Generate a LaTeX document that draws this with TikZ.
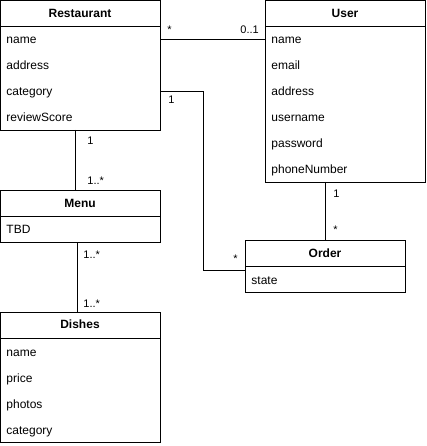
\documentclass[tikz,border=0pt]{standalone}
\usepackage{fontspec}
\setmainfont{Liberation Sans}
\begin{document}
\begin{tikzpicture}[x=1pt,y=-1pt,line width=0.9pt,
  cls/.style={draw,anchor=north west,inner sep=0pt,outer sep=0pt},
  hdr/.style={anchor=base,inner sep=0pt,font=\fontsize{12}{14}\selectfont\bfseries},
  attr/.style={anchor=base west,inner sep=0pt,font=\fontsize{12}{14}\selectfont},
  lbl/.style={anchor=base west,inner sep=0pt,font=\fontsize{11}{13}\selectfont},
  conn/.style={draw,line width=0.9pt}]
\useasboundingbox (0,0) rectangle (426,446);

% Restaurant
\node[cls,minimum width=159.5pt,minimum height=129.5pt] (rest) at (0.5,0.5) {};
\draw (rest.west |- 0,26) -- (rest.east |- 0,26);
\node[hdr] (restT) at (80,17.5) {Restaurant};
\node[attr] (restA1) at (6,44) {name};
\node[attr] (restA2) at (6,70) {address};
\node[attr] (restA3) at (6,96) {category};
\node[attr] (restA4) at (6,122) {reviewScore};

% User
\node[cls,minimum width=160pt,minimum height=181.5pt] (user) at (265,0.5) {};
\draw (user.west |- 0,26) -- (user.east |- 0,26);
\node[hdr] (userT) at (345,17.5) {User};
\node[attr] (userA1) at (271,44) {name};
\node[attr] (userA2) at (271,70) {email};
\node[attr] (userA3) at (271,96) {address};
\node[attr] (userA4) at (271,122) {username};
\node[attr] (userA5) at (271,148) {password};
\node[attr] (userA6) at (271,174) {phoneNumber};

% Menu
\node[cls,minimum width=159.5pt,minimum height=52pt] (menu) at (0.5,190) {};
\draw (menu.west |- 0,216) -- (menu.east |- 0,216);
\node[hdr] (menuT) at (80,207.5) {Menu};
\node[attr] (menuA1) at (6,233) {TBD};

% Order
\node[cls,minimum width=160pt,minimum height=52pt] (order) at (245,240) {};
\draw (order.west |- 0,266) -- (order.east |- 0,266);
\node[hdr] (orderT) at (325,257.5) {Order};
\node[attr] (orderA1) at (251,284) {state};

% Dishes
\node[cls,minimum width=159.5pt,minimum height=130pt] (dish) at (0.5,312) {};
\draw (dish.west |- 0,338) -- (dish.east |- 0,338);
\node[hdr] (dishT) at (80,328.5) {Dishes};
\node[attr] (dishA1) at (6,356) {name};
\node[attr] (dishA2) at (6,382) {price};
\node[attr] (dishA3) at (6,408) {photos};
\node[attr] (dishA4) at (6,434) {category};

% Connectors
\draw[conn] (rest.east |- 0,39) -- (user.west |- 0,39);
\node[lbl] (l1) at (167,34) {*};
\node[lbl] (l2) at (240,34) {0..1};

\coordinate (ro1) at (203,91);
\coordinate (ro2) at (203,270);
\draw[conn] (rest.east |- ro1) -- (ro1) -- (ro2) -- (order.west |- ro2);
\node[lbl] (l3) at (168,104) {1};
\node[lbl] (l4) at (233,262) {*};

\draw[conn] (rest.south -| 75,0) -- (menu.north -| 75,0);
\node[lbl] (l5) at (87,145) {1};
\node[lbl] (l6) at (87,185) {1..*};

\draw[conn] (menu.south -| 77,0) -- (dish.north -| 77,0);
\node[lbl] (l7) at (83,258) {1..*};
\node[lbl] (l8) at (83,307) {1..*};

\draw[conn] (user.south -| 325,0) -- (order.north -| 325,0);
\node[lbl] (l9) at (333,197) {1};
\node[lbl] (l10) at (333,233) {*};
\end{tikzpicture}
\end{document}
